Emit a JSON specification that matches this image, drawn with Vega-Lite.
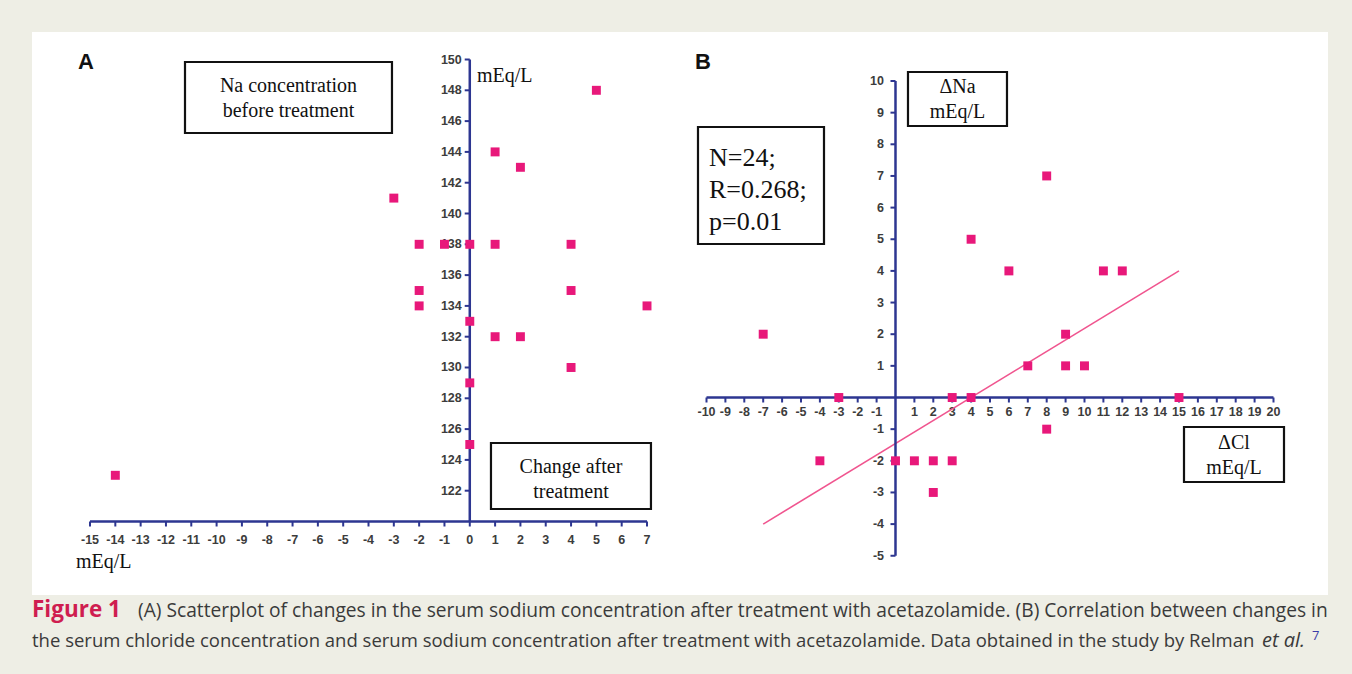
{
  "$schema": "https://vega.github.io/schema/vega-lite/v6.json",
  "background": "#eeeee5",
  "padding": {"left": 32, "top": 32, "right": 24, "bottom": 0},
  "config": {"view": {"stroke": null}, "axis": {"grid": false}},
  "datasets": {
    "A": [
      {"change": 5, "na": 148}, {"change": 1, "na": 144}, {"change": 2, "na": 143},
      {"change": -3, "na": 141}, {"change": -2, "na": 138}, {"change": -1, "na": 138},
      {"change": 0, "na": 138}, {"change": 1, "na": 138}, {"change": 4, "na": 138},
      {"change": -2, "na": 135}, {"change": 4, "na": 135}, {"change": -2, "na": 134},
      {"change": 7, "na": 134}, {"change": 0, "na": 133}, {"change": 1, "na": 132},
      {"change": 2, "na": 132}, {"change": 4, "na": 130}, {"change": 0, "na": 129},
      {"change": 0, "na": 125}, {"change": -14, "na": 123}
    ],
    "B": [
      {"dcl": -7, "dna": 2}, {"dcl": -3, "dna": 0}, {"dcl": -4, "dna": -2},
      {"dcl": 0, "dna": -2}, {"dcl": 1, "dna": -2}, {"dcl": 2, "dna": -2},
      {"dcl": 3, "dna": -2}, {"dcl": 2, "dna": -3}, {"dcl": 3, "dna": 0},
      {"dcl": 4, "dna": 0}, {"dcl": 4, "dna": 5}, {"dcl": 6, "dna": 4},
      {"dcl": 8, "dna": 7}, {"dcl": 7, "dna": 1}, {"dcl": 9, "dna": 2},
      {"dcl": 9, "dna": 1}, {"dcl": 10, "dna": 1}, {"dcl": 8, "dna": -1},
      {"dcl": 11, "dna": 4}, {"dcl": 12, "dna": 4}, {"dcl": 15, "dna": 0}
    ],
    "tAx": [{"v": -15}, {"v": -14}, {"v": -13}, {"v": -12}, {"v": -11}, {"v": -10}, {"v": -9}, {"v": -8}, {"v": -7}, {"v": -6}, {"v": -5}, {"v": -4}, {"v": -3}, {"v": -2}, {"v": -1}, {"v": 0}, {"v": 1}, {"v": 2}, {"v": 3}, {"v": 4}, {"v": 5}, {"v": 6}, {"v": 7}],
    "tAy": [{"v": 122}, {"v": 124}, {"v": 126}, {"v": 128}, {"v": 130}, {"v": 132}, {"v": 134}, {"v": 136}, {"v": 138}, {"v": 140}, {"v": 142}, {"v": 144}, {"v": 146}, {"v": 148}, {"v": 150}],
    "tBx": [{"v": -10}, {"v": -9}, {"v": -8}, {"v": -7}, {"v": -6}, {"v": -5}, {"v": -4}, {"v": -3}, {"v": -2}, {"v": -1}, {"v": 1}, {"v": 2}, {"v": 3}, {"v": 4}, {"v": 5}, {"v": 6}, {"v": 7}, {"v": 8}, {"v": 9}, {"v": 10}, {"v": 11}, {"v": 12}, {"v": 13}, {"v": 14}, {"v": 15}, {"v": 16}, {"v": 17}, {"v": 18}, {"v": 19}, {"v": 20}],
    "tBy": [{"v": -5}, {"v": -4}, {"v": -3}, {"v": -2}, {"v": -1}, {"v": 1}, {"v": 2}, {"v": 3}, {"v": 4}, {"v": 5}, {"v": 6}, {"v": 7}, {"v": 8}, {"v": 9}, {"v": 10}]
  },
  "spacing": 0,
  "vconcat": [
    {
      "spacing": 0,
      "hconcat": [
        {
          "width": 648, "height": 563,
          "view": {"fill": "white", "stroke": null},
          "layer": [
            {
              "data": {"name": "tAx"},
              "mark": {"type": "rule", "color": "#2d3691", "strokeWidth": 2},
              "encoding": {
                "x": {"field": "v", "type": "quantitative", "scale": {"domain": [-17.291, 8.303], "nice": false, "zero": false}, "axis": null},
                "y": {"datum": 120, "type": "quantitative", "scale": {"domain": [115.227, 151.786], "nice": false, "zero": false}, "axis": null},
                "y2": {"datum": 119.675}
              }
            },
            {
              "data": {"name": "tAx"},
              "mark": {"type": "text", "font": "Liberation Sans", "fontWeight": "bold", "fontSize": 12.5, "color": "#3c3c3c", "align": "center", "baseline": "middle"},
              "encoding": {
                "x": {"field": "v", "type": "quantitative", "scale": {"domain": [-17.291, 8.303], "nice": false, "zero": false}, "axis": null},
                "y": {"datum": 118.8, "type": "quantitative", "scale": {"domain": [115.227, 151.786], "nice": false, "zero": false}, "axis": null},
                "text": {"field": "v", "type": "nominal"}
              }
            },
            {
              "data": {"name": "tAy"},
              "mark": {"type": "rule", "color": "#2d3691", "strokeWidth": 2},
              "encoding": {
                "x": {"datum": -0.2, "type": "quantitative", "scale": {"domain": [-17.291, 8.303], "nice": false, "zero": false}, "axis": null},
                "x2": {"datum": 0},
                "y": {"field": "v", "type": "quantitative", "scale": {"domain": [115.227, 151.786], "nice": false, "zero": false}, "axis": null}
              }
            },
            {
              "data": {"name": "tAy"},
              "mark": {"type": "text", "font": "Liberation Sans", "fontWeight": "bold", "fontSize": 12.5, "color": "#3c3c3c", "align": "right", "baseline": "middle"},
              "encoding": {
                "x": {"datum": -0.316, "type": "quantitative", "scale": {"domain": [-17.291, 8.303], "nice": false, "zero": false}, "axis": null},
                "y": {"field": "v", "type": "quantitative", "scale": {"domain": [115.227, 151.786], "nice": false, "zero": false}, "axis": null},
                "text": {"field": "v", "type": "nominal"}
              }
            },
            {
              "data": {"values": [{}]},
              "mark": {"type": "rule", "color": "#2d3691", "strokeWidth": 2.5},
              "encoding": {
                "x": {"datum": -15, "type": "quantitative", "scale": {"domain": [-17.291, 8.303], "nice": false, "zero": false}, "axis": null},
                "x2": {"datum": 7},
                "y": {"datum": 120, "type": "quantitative", "scale": {"domain": [115.227, 151.786], "nice": false, "zero": false}, "axis": null}
              }
            },
            {
              "data": {"values": [{}]},
              "mark": {"type": "rule", "color": "#2d3691", "strokeWidth": 2.5},
              "encoding": {
                "x": {"datum": 0, "type": "quantitative", "scale": {"domain": [-17.291, 8.303], "nice": false, "zero": false}, "axis": null},
                "y": {"datum": 120, "type": "quantitative", "scale": {"domain": [115.227, 151.786], "nice": false, "zero": false}, "axis": null},
                "y2": {"datum": 150}
              }
            },
            {
              "data": {"name": "A"},
              "mark": {"type": "point", "shape": "square", "filled": true, "opacity": 1, "size": 80, "color": "#e8187a"},
              "encoding": {
                "x": {"field": "change", "type": "quantitative", "scale": {"domain": [-17.291, 8.303], "nice": false, "zero": false}, "axis": null},
                "y": {"field": "na", "type": "quantitative", "scale": {"domain": [115.227, 151.786], "nice": false, "zero": false}, "axis": null}
              }
            },
            {
              "data": {"values": [{}]},
              "mark": {"type": "rect", "fill": "white", "stroke": "#111111", "strokeWidth": 2.2},
              "encoding": {
                "x": {"datum": -11.248, "type": "quantitative", "scale": {"domain": [-17.291, 8.303], "nice": false, "zero": false}, "axis": null},
                "x2": {"datum": -3.073},
                "y": {"datum": 149.838, "type": "quantitative", "scale": {"domain": [115.227, 151.786], "nice": false, "zero": false}, "axis": null},
                "y2": {"datum": 145.227}
              }
            },
            {
              "data": {"values": [{}]},
              "mark": {"type": "text", "text": ["Na concentration", "before treatment"], "font": "Liberation Serif", "fontSize": 20, "lineHeight": 25, "align": "center", "baseline": "middle", "color": "#111111"},
              "encoding": {
                "x": {"datum": -7.16, "type": "quantitative", "scale": {"domain": [-17.291, 8.303], "nice": false, "zero": false}, "axis": null},
                "y": {"datum": 148.279, "type": "quantitative", "scale": {"domain": [115.227, 151.786], "nice": false, "zero": false}, "axis": null}
              }
            },
            {
              "data": {"values": [{}]},
              "mark": {"type": "rect", "fill": "white", "stroke": "#111111", "strokeWidth": 2.2},
              "encoding": {
                "x": {"datum": 0.837, "type": "quantitative", "scale": {"domain": [-17.291, 8.303], "nice": false, "zero": false}, "axis": null},
                "x2": {"datum": 7.156},
                "y": {"datum": 125.097, "type": "quantitative", "scale": {"domain": [115.227, 151.786], "nice": false, "zero": false}, "axis": null},
                "y2": {"datum": 120.812}
              }
            },
            {
              "data": {"values": [{}]},
              "mark": {"type": "text", "text": ["Change after", "treatment"], "font": "Liberation Serif", "fontSize": 20, "lineHeight": 25, "align": "center", "baseline": "middle", "color": "#111111"},
              "encoding": {
                "x": {"datum": 3.997, "type": "quantitative", "scale": {"domain": [-17.291, 8.303], "nice": false, "zero": false}, "axis": null},
                "y": {"datum": 123.539, "type": "quantitative", "scale": {"domain": [115.227, 151.786], "nice": false, "zero": false}, "axis": null}
              }
            },
            {
              "data": {"values": [{}]},
              "mark": {"type": "text", "text": "mEq/L", "font": "Liberation Serif", "fontSize": 20, "align": "left", "baseline": "middle", "color": "#111111"},
              "encoding": {
                "x": {"datum": 0.284, "type": "quantitative", "scale": {"domain": [-17.291, 8.303], "nice": false, "zero": false}, "axis": null},
                "y": {"datum": 148.929, "type": "quantitative", "scale": {"domain": [115.227, 151.786], "nice": false, "zero": false}, "axis": null}
              }
            },
            {
              "data": {"values": [{}]},
              "mark": {"type": "text", "text": "mEq/L", "font": "Liberation Serif", "fontSize": 20, "align": "left", "baseline": "middle", "color": "#111111"},
              "encoding": {
                "x": {"datum": -15.553, "type": "quantitative", "scale": {"domain": [-17.291, 8.303], "nice": false, "zero": false}, "axis": null},
                "y": {"datum": 117.37, "type": "quantitative", "scale": {"domain": [115.227, 151.786], "nice": false, "zero": false}, "axis": null}
              }
            },
            {
              "data": {"values": [{}]},
              "mark": {"type": "text", "text": "A", "font": "Liberation Sans", "fontWeight": "bold", "fontSize": 22, "align": "center", "baseline": "middle", "color": "#111111"},
              "encoding": {
                "x": {"datum": -15.16, "type": "quantitative", "scale": {"domain": [-17.291, 8.303], "nice": false, "zero": false}, "axis": null},
                "y": {"datum": 149.838, "type": "quantitative", "scale": {"domain": [115.227, 151.786], "nice": false, "zero": false}, "axis": null}
              }
            }
          ]
        },
        {
          "width": 648, "height": 563,
          "view": {"fill": "white", "stroke": null},
          "layer": [
            {
              "data": {"name": "tBx"},
              "mark": {"type": "rule", "color": "#2d3691", "strokeWidth": 2},
              "encoding": {
                "x": {"field": "v", "type": "quantitative", "scale": {"domain": [-11.402, 22.884], "nice": false, "zero": false}, "axis": null},
                "y": {"datum": 0, "type": "quantitative", "scale": {"domain": [-6.24, 11.548], "nice": false, "zero": false}, "axis": null},
                "y2": {"datum": -0.158}
              }
            },
            {
              "data": {"name": "tBx"},
              "mark": {"type": "text", "font": "Liberation Sans", "fontWeight": "bold", "fontSize": 12.5, "color": "#3c3c3c", "align": "center", "baseline": "middle"},
              "encoding": {
                "x": {"field": "v", "type": "quantitative", "scale": {"domain": [-11.402, 22.884], "nice": false, "zero": false}, "axis": null},
                "y": {"datum": -0.47, "type": "quantitative", "scale": {"domain": [-6.24, 11.548], "nice": false, "zero": false}, "axis": null},
                "text": {"field": "v", "type": "nominal"}
              }
            },
            {
              "data": {"name": "tBy"},
              "mark": {"type": "rule", "color": "#2d3691", "strokeWidth": 2},
              "encoding": {
                "x": {"datum": -0.265, "type": "quantitative", "scale": {"domain": [-11.402, 22.884], "nice": false, "zero": false}, "axis": null},
                "x2": {"datum": 0},
                "y": {"field": "v", "type": "quantitative", "scale": {"domain": [-6.24, 11.548], "nice": false, "zero": false}, "axis": null}
              }
            },
            {
              "data": {"name": "tBy"},
              "mark": {"type": "text", "font": "Liberation Sans", "fontWeight": "bold", "fontSize": 12.5, "color": "#3c3c3c", "align": "right", "baseline": "middle"},
              "encoding": {
                "x": {"datum": -0.608, "type": "quantitative", "scale": {"domain": [-11.402, 22.884], "nice": false, "zero": false}, "axis": null},
                "y": {"field": "v", "type": "quantitative", "scale": {"domain": [-6.24, 11.548], "nice": false, "zero": false}, "axis": null},
                "text": {"field": "v", "type": "nominal"}
              }
            },
            {
              "data": {"values": [{}]},
              "mark": {"type": "rule", "color": "#f0558f", "strokeWidth": 1.6},
              "encoding": {
                "x": {"datum": -7, "type": "quantitative", "scale": {"domain": [-11.402, 22.884], "nice": false, "zero": false}, "axis": null},
                "x2": {"datum": 15},
                "y": {"datum": -4, "type": "quantitative", "scale": {"domain": [-6.24, 11.548], "nice": false, "zero": false}, "axis": null},
                "y2": {"datum": 4}
              }
            },
            {
              "data": {"values": [{}]},
              "mark": {"type": "rule", "color": "#2d3691", "strokeWidth": 2.5},
              "encoding": {
                "x": {"datum": -10, "type": "quantitative", "scale": {"domain": [-11.402, 22.884], "nice": false, "zero": false}, "axis": null},
                "x2": {"datum": 20},
                "y": {"datum": 0, "type": "quantitative", "scale": {"domain": [-6.24, 11.548], "nice": false, "zero": false}, "axis": null}
              }
            },
            {
              "data": {"values": [{}]},
              "mark": {"type": "rule", "color": "#2d3691", "strokeWidth": 2.5},
              "encoding": {
                "x": {"datum": 0, "type": "quantitative", "scale": {"domain": [-11.402, 22.884], "nice": false, "zero": false}, "axis": null},
                "y": {"datum": -5, "type": "quantitative", "scale": {"domain": [-6.24, 11.548], "nice": false, "zero": false}, "axis": null},
                "y2": {"datum": 10}
              }
            },
            {
              "data": {"name": "B"},
              "mark": {"type": "point", "shape": "square", "filled": true, "opacity": 1, "size": 80, "color": "#e8187a"},
              "encoding": {
                "x": {"field": "dcl", "type": "quantitative", "scale": {"domain": [-11.402, 22.884], "nice": false, "zero": false}, "axis": null},
                "y": {"field": "dna", "type": "quantitative", "scale": {"domain": [-6.24, 11.548], "nice": false, "zero": false}, "axis": null}
              }
            },
            {
              "data": {"values": [{}]},
              "mark": {"type": "rect", "fill": "white", "stroke": "#111111", "strokeWidth": 2.2},
              "encoding": {
                "x": {"datum": -10.45, "type": "quantitative", "scale": {"domain": [-11.402, 22.884], "nice": false, "zero": false}, "axis": null},
                "x2": {"datum": -3.783},
                "y": {"datum": 8.547, "type": "quantitative", "scale": {"domain": [-6.24, 11.548], "nice": false, "zero": false}, "axis": null},
                "y2": {"datum": 4.85}
              }
            },
            {
              "data": {"values": [{}]},
              "mark": {"type": "text", "text": ["N=24;", "R=0.268;", "p=0.01"], "font": "Liberation Serif", "fontSize": 26, "lineHeight": 32, "align": "left", "baseline": "middle", "color": "#111111"},
              "encoding": {
                "x": {"datum": -9.868, "type": "quantitative", "scale": {"domain": [-11.402, 22.884], "nice": false, "zero": false}, "axis": null},
                "y": {"datum": 7.567, "type": "quantitative", "scale": {"domain": [-6.24, 11.548], "nice": false, "zero": false}, "axis": null}
              }
            },
            {
              "data": {"values": [{}]},
              "mark": {"type": "rect", "fill": "white", "stroke": "#111111", "strokeWidth": 2.2},
              "encoding": {
                "x": {"datum": 0.661, "type": "quantitative", "scale": {"domain": [-11.402, 22.884], "nice": false, "zero": false}, "axis": null},
                "x2": {"datum": 5.899},
                "y": {"datum": 10.284, "type": "quantitative", "scale": {"domain": [-6.24, 11.548], "nice": false, "zero": false}, "axis": null},
                "y2": {"datum": 8.578}
              }
            },
            {
              "data": {"values": [{}]},
              "mark": {"type": "text", "text": ["ΔNa", "mEq/L"], "font": "Liberation Serif", "fontSize": 20, "lineHeight": 25, "align": "center", "baseline": "middle", "color": "#111111"},
              "encoding": {
                "x": {"datum": 3.28, "type": "quantitative", "scale": {"domain": [-11.402, 22.884], "nice": false, "zero": false}, "axis": null},
                "y": {"datum": 9.81, "type": "quantitative", "scale": {"domain": [-6.24, 11.548], "nice": false, "zero": false}, "axis": null}
              }
            },
            {
              "data": {"values": [{}]},
              "mark": {"type": "rect", "fill": "white", "stroke": "#111111", "strokeWidth": 2.2},
              "encoding": {
                "x": {"datum": 15.265, "type": "quantitative", "scale": {"domain": [-11.402, 22.884], "nice": false, "zero": false}, "axis": null},
                "x2": {"datum": 20.556},
                "y": {"datum": -0.932, "type": "quantitative", "scale": {"domain": [-6.24, 11.548], "nice": false, "zero": false}, "axis": null},
                "y2": {"datum": -2.67}
              }
            },
            {
              "data": {"values": [{}]},
              "mark": {"type": "text", "text": ["ΔCl", "mEq/L"], "font": "Liberation Serif", "fontSize": 20, "lineHeight": 25, "align": "center", "baseline": "middle", "color": "#111111"},
              "encoding": {
                "x": {"datum": 17.91, "type": "quantitative", "scale": {"domain": [-11.402, 22.884], "nice": false, "zero": false}, "axis": null},
                "y": {"datum": -1.438, "type": "quantitative", "scale": {"domain": [-6.24, 11.548], "nice": false, "zero": false}, "axis": null}
              }
            },
            {
              "data": {"values": [{}]},
              "mark": {"type": "text", "text": "B", "font": "Liberation Sans", "fontWeight": "bold", "fontSize": 22, "align": "center", "baseline": "middle", "color": "#111111"},
              "encoding": {
                "x": {"datum": -10.185, "type": "quantitative", "scale": {"domain": [-11.402, 22.884], "nice": false, "zero": false}, "axis": null},
                "y": {"datum": 10.6, "type": "quantitative", "scale": {"domain": [-6.24, 11.548], "nice": false, "zero": false}, "axis": null}
              }
            }
          ]
        }
      ]
    },
    {
      "width": 1296, "height": 79,
      "view": {"fill": null, "stroke": null},
      "data": {"values": [{}]},
      "layer": [
        {
          "mark": {"type": "text", "text": "Figure 1", "font": "Open Sans", "fontWeight": "bold", "fontSize": 22.5, "align": "left", "baseline": "alphabetic", "color": "#cf1d50"},
          "encoding": {
            "x": {"datum": 0, "type": "quantitative", "scale": {"domain": [0, 1296], "nice": false, "zero": false}, "axis": null},
            "y": {"datum": 22, "type": "quantitative", "scale": {"domain": [0, 79], "reverse": true, "nice": false, "zero": false}, "axis": null}
          }
        },
        {
          "mark": {"type": "text", "text": "(A) Scatterplot of changes in the serum sodium concentration after treatment with acetazolamide. (B) Correlation between changes in", "font": "Open Sans", "fontSize": 19.2, "align": "left", "baseline": "alphabetic", "color": "#3a3a3a"},
          "encoding": {
            "x": {"datum": 106, "type": "quantitative", "scale": {"domain": [0, 1296], "nice": false, "zero": false}, "axis": null},
            "y": {"datum": 22, "type": "quantitative", "scale": {"domain": [0, 79], "reverse": true, "nice": false, "zero": false}, "axis": null}
          }
        },
        {
          "mark": {"type": "text", "text": "the serum chloride concentration and serum sodium concentration after treatment with acetazolamide. Data obtained in the study by Relman", "font": "Open Sans", "fontSize": 18.5, "align": "left", "baseline": "alphabetic", "color": "#3a3a3a"},
          "encoding": {
            "x": {"datum": 0, "type": "quantitative", "scale": {"domain": [0, 1296], "nice": false, "zero": false}, "axis": null},
            "y": {"datum": 52, "type": "quantitative", "scale": {"domain": [0, 79], "reverse": true, "nice": false, "zero": false}, "axis": null}
          }
        },
        {
          "mark": {"type": "text", "text": "et al.", "font": "Open Sans", "fontStyle": "italic", "fontSize": 20, "align": "left", "baseline": "alphabetic", "color": "#3a3a3a"},
          "encoding": {
            "x": {"datum": 1230, "type": "quantitative", "scale": {"domain": [0, 1296], "nice": false, "zero": false}, "axis": null},
            "y": {"datum": 52, "type": "quantitative", "scale": {"domain": [0, 79], "reverse": true, "nice": false, "zero": false}, "axis": null}
          }
        },
        {
          "mark": {"type": "text", "text": "7", "font": "Open Sans", "fontSize": 13, "align": "left", "baseline": "alphabetic", "color": "#3b3ba8"},
          "encoding": {
            "x": {"datum": 1280, "type": "quantitative", "scale": {"domain": [0, 1296], "nice": false, "zero": false}, "axis": null},
            "y": {"datum": 45, "type": "quantitative", "scale": {"domain": [0, 79], "reverse": true, "nice": false, "zero": false}, "axis": null}
          }
        }
      ]
    }
  ]
}
